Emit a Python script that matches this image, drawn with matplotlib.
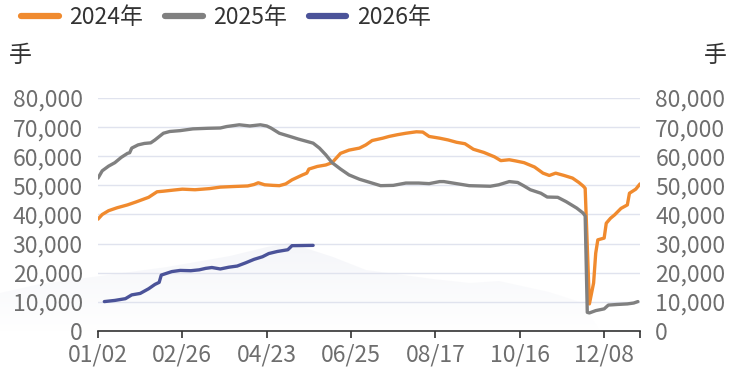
import numpy as np
import matplotlib
matplotlib.use("Agg")
import matplotlib.pyplot as plt
from matplotlib.patches import Polygon
from matplotlib.lines import Line2D
from matplotlib.ticker import FuncFormatter

plt.rcParams['font.family'] = ['Noto Sans CJK SC', 'DejaVu Sans']

# 交易日序号（从年初第一个交易日起）与持仓量（手）
days_2024 = [0, 2, 5, 9, 14, 18, 24, 28, 31, 36, 40, 46, 53, 58, 64, 71, 74, 76, 79, 83,
             86, 89, 92, 97, 99, 100, 104, 108, 111, 115, 119, 124, 127, 130, 135, 138, 142, 146, 151, 154,
             157, 162, 166, 170, 174, 178, 183, 188, 191, 195, 198, 202, 207, 211, 214, 217, 221, 225, 228, 230,
             231, 233, 235, 236, 237, 240, 241, 243, 245, 248, 251, 252, 255, 257]
vals_2024 = [38400, 40000, 41300, 42300, 43300, 44300, 45900, 47800, 48000, 48400, 48700, 48500, 48900, 49400, 49600, 49800, 50300, 50900, 50200, 50000,
             49900, 50500, 51900, 53600, 54200, 55600, 56500, 57000, 57800, 61000, 62100, 62800, 63900, 65400, 66200, 66800, 67400, 67900, 68400, 68300,
             66800, 66200, 65600, 64800, 64300, 62400, 61300, 59800, 58500, 58800, 58400, 57800, 56300, 54200, 53400, 54200, 53400, 52500, 51000, 49800,
             49000, 9300, 16500, 26700, 31300, 31900, 37000, 38700, 39900, 42100, 43300, 47300, 48700, 50500]

days_2025 = [0, 2, 5, 8, 11, 14, 15, 16, 19, 22, 25, 27, 31, 34, 39, 45, 52, 58, 61, 67,
             72, 77, 80, 82, 86, 91, 95, 102, 105, 108, 111, 115, 119, 124, 129, 134, 140, 146, 152, 157,
             162, 164, 170, 176, 186, 190, 195, 199, 202, 205, 210, 213, 218, 222, 227, 230, 231, 232, 233, 236,
             240, 242, 246, 251, 254, 256]
vals_2025 = [52500, 55000, 56600, 57800, 59600, 61000, 61200, 62800, 63900, 64400, 64600, 65600, 67900, 68500, 68800, 69400, 69600, 69700, 70200, 70800,
             70400, 70800, 70400, 69700, 67900, 66800, 65900, 64500, 62800, 60500, 57800, 55600, 53600, 52100, 51000, 49900, 50000, 50800, 50800, 50600,
             51300, 51300, 50600, 49900, 49700, 50200, 51300, 51000, 49800, 48500, 47300, 46000, 45900, 44400, 42200, 40500, 39500, 6400, 6200, 7000,
             7600, 8900, 9100, 9300, 9600, 10100]

days_2026 = [3, 8, 13, 16, 20, 24, 27, 29, 30, 35, 39, 44, 48, 51, 54, 58, 62, 66, 70, 74,
             78, 81, 85, 90, 92, 102]
vals_2026 = [10100, 10500, 11100, 12400, 12900, 14500, 16000, 16700, 19200, 20400, 20800, 20700, 21000, 21500, 21800, 21300, 21900, 22300, 23400, 24600,
             25500, 26600, 27300, 27900, 29300, 29400]

n_days = 258
tick_pos = [0, 40, 80, 120, 160, 200, 240]
tick_labels = ['01/02', '02/26', '04/23', '06/25', '08/17', '10/16', '12/08']
y_ticks = [0, 10000, 20000, 30000, 40000, 50000, 60000, 70000, 80000]

names = ['2024年', '2025年', '2026年']
colors = ['#F08A2E', '#808080', '#4B5399']

W, H = 732, 368
fig = plt.figure(figsize=(W / 100, H / 100), dpi=100)

# 背景淡色山形水印
bg = fig.add_axes([0, 0, 1, 1], zorder=0)
bg.set_xlim(0, W)
bg.set_ylim(H, 0)
bg.axis('off')
hill = Polygon([(0, 293), (40, 284), (100, 276), (167, 267), (230, 256), (267, 247), (290, 243),
                (333, 257), (366, 270), (433, 279), (470, 283), (499, 281), (549, 292), (583, 303),
                (600, 331), (0, 331)], closed=True, facecolor='none', edgecolor='none')
bg.add_patch(hill)
fade = np.zeros((100, 1, 4))
fade[..., 0] = 0.89
fade[..., 1] = 0.90
fade[..., 2] = 0.94
fade[..., 3] = np.linspace(0.36, 0.0, 100)[:, None]
im = bg.imshow(fade, extent=(0, W, 335, 240), aspect='auto', interpolation='bilinear')
im.set_clip_path(hill)

ax = fig.add_axes([98 / W, 1 - 331 / H, 542 / W, 233 / H], zorder=1)
ax.patch.set_alpha(0)

for d, v, c in zip([days_2024, days_2025, days_2026], [vals_2024, vals_2025, vals_2026], colors):
    ax.plot(d, v, color=c, lw=2.4, solid_joinstyle='round', solid_capstyle='round')

ax.set_xlim(0, n_days - 1)
ax.set_ylim(0, 80000)
ax.set_yticks(y_ticks)
ax.yaxis.set_major_formatter(FuncFormatter(lambda v, _: f'{int(v):,}'))
ax.grid(axis='y', color='#E0E3EE', lw=1)
ax.set_axisbelow(True)

ax.set_xticks(tick_pos + [n_days - 1])
ax.set_xticklabels(tick_labels + [''])

for s in ['top', 'left', 'right']:
    ax.spines[s].set_visible(False)
ax.spines['bottom'].set_color('#333333')
ax.spines['bottom'].set_linewidth(1.2)

ax.tick_params(axis='y', length=0, labelleft=True, labelright=True, pad=11,
               labelsize=16.5, labelcolor='#6E6E6E')
ax.tick_params(axis='x', length=5, width=1.2, color='#333333', pad=4,
               labelsize=16.5, labelcolor='#6E6E6E')

# 单位
fig.text(20 / W, 1 - 56 / H, '手', ha='center', va='center', fontsize=16.5, color='#333333')
fig.text(715 / W, 1 - 56 / H, '手', ha='center', va='center', fontsize=16.5, color='#333333')

handles = [Line2D([], [], color=c, lw=4.5, solid_capstyle='round') for c in colors]
fig.legend(handles, names, loc='upper left', bbox_to_anchor=(21 / W, 1 - 6 / H), ncol=3,
           frameon=False, fontsize=16.5, handlelength=1.65, handletextpad=0.45,
           columnspacing=0.95, borderpad=0, borderaxespad=0, labelcolor='#333333')

fig.savefig('out.png', dpi=100)
